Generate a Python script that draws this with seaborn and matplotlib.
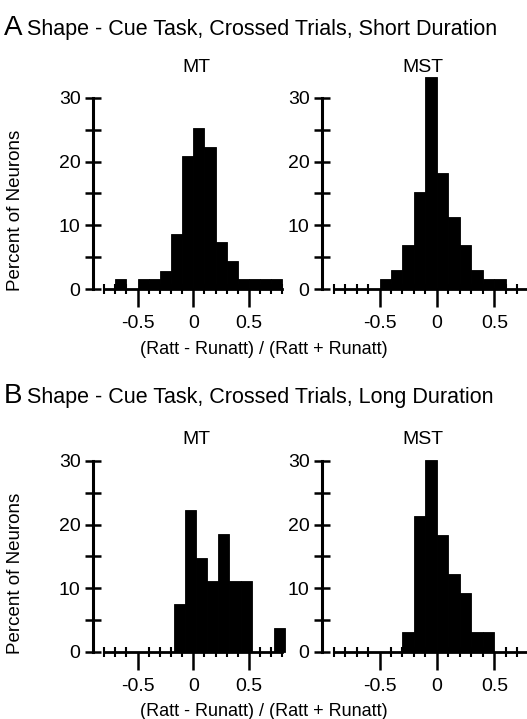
import numpy as np
import pandas as pd
import matplotlib
matplotlib.use("Agg")
import matplotlib.pyplot as plt
import seaborn as sns
from matplotlib.ticker import FixedLocator, FixedFormatter

sns.set_theme(style="ticks")
plt.rcParams['font.family'] = ['Liberation Sans', 'DejaVu Sans']
plt.rcParams['text.color'] = 'black'
plt.rcParams['axes.labelcolor'] = 'black'
plt.rcParams['xtick.color'] = 'black'
plt.rcParams['ytick.color'] = 'black'
plt.rcParams['axes.edgecolor'] = 'black'

# ---------------- data (percent of neurons per bin) ----------------
a_mt_edges = [-0.8, -0.7, -0.6, -0.5, -0.4, -0.3, -0.2, -0.1, 0.0, 0.1,
              0.2, 0.3, 0.4, 0.5, 0.6, 0.7, 0.8]
a_mt_pct = [0, 1.5, 0, 1.5, 1.5, 2.9, 8.6, 20.8, 25.2, 22.3,
            7.4, 4.4, 1.5, 1.5, 1.5, 1.5]

a_mst_edges = [-0.9, -0.8, -0.7, -0.6, -0.5, -0.4, -0.3, -0.2, -0.1, 0.0,
               0.1, 0.2, 0.3, 0.4, 0.5, 0.6, 0.7, 0.8]
a_mst_pct = [0, 0, 0, 0, 1.5, 3.0, 6.9, 15.3, 33.3, 18.2,
             11.3, 6.9, 3.0, 1.5, 1.5, 0, 0]

b_mt_edges = [-0.175, -0.075, 0.025, 0.125, 0.225, 0.325, 0.425, 0.525,
              0.625, 0.725, 0.825]
b_mt_pct = [7.5, 22.3, 14.8, 11.2, 18.6, 11.2, 11.2, 0, 0, 3.8]

b_mst_edges = [-0.3, -0.2, -0.1, 0.0, 0.1, 0.2, 0.3, 0.4, 0.5]
b_mst_pct = [3.1, 21.3, 30.2, 18.3, 12.2, 9.2, 3.1, 3.1]

y_major = [0, 10, 20, 30]
y_minor = [5, 15, 25]
x_major = [-0.5, 0.0, 0.5]
x_major_labels = ["-0.5", "0", "0.5"]

panel_titles = ["A", "B"]
panel_texts = ["Shape - Cue Task, Crossed Trials, Short Duration",
               "Shape - Cue Task, Crossed Trials, Long Duration"]
area_names = ["MT", "MST"]
xlabel_text = "(Ratt - Runatt) / (Ratt + Runatt)"
ylabel_text = "Percent of Neurons"

# ---------------- figure ----------------
W, H = 527, 719
fig = plt.figure(figsize=(W / 100, H / 100), dpi=100)
FS = 14


def px(x, y):
    return x / W, 1 - y / H


def panel(left_px, zero_px, width_px, xlim, axis_start, edges, pct):
    height_px = 216.6
    ax = fig.add_axes([left_px / W, 1 - zero_px / H, width_px / W, height_px / H])
    centers = [(edges[i] + edges[i + 1]) / 2 for i in range(len(pct))]
    df = pd.DataFrame({"x": centers, "pct": pct})
    sns.histplot(data=df, x="x", weights="pct", bins=edges, color="black",
                 edgecolor="black", linewidth=0.6, alpha=1, ax=ax,
                 legend=False)
    for p in ax.patches:
        p.set_clip_on(False)
    ax.set_xlim(*xlim)
    ax.set_ylim(0, 34)
    ax.set_xlabel("")
    ax.set_ylabel("")
    ax.set_facecolor("none")
    for s in ["top", "right"]:
        ax.spines[s].set_visible(False)
    ax.spines["left"].set_bounds(0, 30)
    ax.spines["left"].set_linewidth(2.2)
    ax.spines["bottom"].set_bounds(axis_start, 0.8)
    ax.spines["bottom"].set_linewidth(2.0)
    ax.yaxis.set_major_locator(FixedLocator(y_major))
    ax.yaxis.set_minor_locator(FixedLocator(y_minor))
    ax.xaxis.set_major_locator(FixedLocator(x_major))
    ax.xaxis.set_major_formatter(FixedFormatter(x_major_labels))
    n = int(round((0.8 - axis_start) / 0.1))
    minors = [round(axis_start + 0.1 * i, 2) for i in range(n + 1)]
    ax.xaxis.set_minor_locator(FixedLocator(minors))
    ax.tick_params(axis="y", which="major", direction="inout", length=12,
                   width=1.8, labelsize=FS, pad=3, color="black")
    ax.tick_params(axis="y", which="minor", direction="inout", length=11,
                   width=1.8, color="black")
    ax.tick_params(axis="x", which="major", direction="out", length=13,
                   width=1.8, labelsize=FS, pad=6, color="black")
    ax.tick_params(axis="x", which="minor", direction="inout", length=7,
                   width=1.5, color="black")
    return ax


rows = [
    (289, a_mt_edges, a_mt_pct, a_mst_edges, a_mst_pct),
    (652, b_mt_edges, b_mt_pct, b_mst_edges, b_mst_pct),
]
title_y = [28, 396]
area_y = [68, 440]
for r, (zero, e1, p1, e2, p2) in enumerate(rows):
    panel(93, zero, 189.4, (-0.9, 0.8), -0.8, e1, p1)
    panel(322, zero, 207, (-1.0, 0.8), -0.9, e2, p2)
    fig.text(*px(4, title_y[r]), panel_titles[r], fontsize=20,
             ha="left", va="center")
    fig.text(*px(27, title_y[r] + 1), panel_texts[r], fontsize=15.5,
             ha="left", va="center")
    fig.text(*px(196, area_y[r]), area_names[0], fontsize=FS, ha="center", va="center")
    fig.text(*px(423, area_y[r]), area_names[1], fontsize=FS, ha="center", va="center")
    fig.text(*px(264, zero + 60), xlabel_text, fontsize=13, ha="center",
             va="center")
    fig.text(*px(16, zero - 79), ylabel_text, fontsize=13.5, rotation=90,
             ha="center", va="center")

fig.savefig("out.png", dpi=100)
